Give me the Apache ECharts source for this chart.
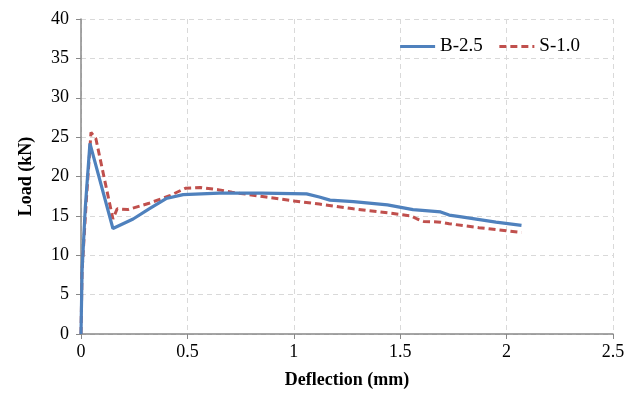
<!DOCTYPE html>
<html><head><meta charset="utf-8">
<script src="https://cdn.jsdelivr.net/npm/echarts@6/dist/echarts.min.js"></script>
<style>html,body{margin:0;padding:0;background:#fff}#c{width:630px;height:394px}</style>
</head><body><div id="c"></div>
<script>
var seriesNames = ['B-2.5', 'S-1.0'];
var b25 = [[0,0],[0.005,8],[0.02,16],[0.042,24.2],[0.15,13.4],[0.245,14.6],[0.32,15.9],[0.40,17.2],[0.48,17.7],[0.65,17.9],[0.85,17.9],[1.06,17.8],[1.12,17.4],[1.17,17.0],[1.28,16.8],[1.44,16.4],[1.56,15.8],[1.69,15.5],[1.73,15.1],[1.78,14.9],[1.95,14.2],[2.07,13.8]];
var s10 = [[0,0],[0.005,8],[0.025,17],[0.047,25.6],[0.07,24.8],[0.15,14.6],[0.17,15.9],[0.22,15.8],[0.32,16.6],[0.42,17.6],[0.49,18.5],[0.56,18.6],[0.65,18.3],[0.71,18.0],[0.87,17.4],[1.0,16.9],[1.12,16.5],[1.28,15.9],[1.44,15.4],[1.55,15.0],[1.58,14.6],[1.61,14.3],[1.69,14.2],[1.73,14.0],[1.87,13.5],[2.07,12.9]];
var xTicks = [0, 0.5, 1, 1.5, 2, 2.5];
var yTicks = [0, 5, 10, 15, 20, 25, 30, 35, 40];

var font = "'Liberation Serif', 'Times New Roman', serif";
var chart = echarts.init(document.getElementById('c'));
chart.setOption({
  animation: false,
  grid: {left: 81, right: 17, top: 19, bottom: 58},
  legend: {
    top: 32, right: 45, itemWidth: 35, itemHeight: 14, itemGap: 15,
    itemStyle: {opacity: 0},
    lineStyle: {width: 3},
    textStyle: {fontFamily: font, fontSize: 19, color: '#000'},
    data: seriesNames
  },
  xAxis: {
    type: 'value', min: 0, max: 2.5, interval: 0.5,
    name: 'Deflection (mm)', nameLocation: 'middle', nameGap: 37,
    nameTextStyle: {fontFamily: font, fontSize: 18, fontWeight: 'bold', color: '#000'},
    axisLine: {lineStyle: {color: '#888', width: 1.5}},
    axisTick: {show: true, length: 5, lineStyle: {color: '#888'}},
    axisLabel: {fontFamily: font, fontSize: 18, color: '#000', margin: 9,
      formatter: function(v){return xTicks.indexOf(v) >= 0 ? String(v) : '';}},
    splitLine: {show: true, lineStyle: {color: '#d9d9d9', type: [5, 4]}}
  },
  yAxis: {
    type: 'value', min: 0, max: 40, interval: 5,
    name: 'Load (kN)', nameLocation: 'middle', nameGap: 46,
    nameTextStyle: {fontFamily: font, fontSize: 18, fontWeight: 'bold', color: '#000'},
    axisLine: {show: true, lineStyle: {color: '#888', width: 1.5}},
    axisTick: {show: true, length: 5, lineStyle: {color: '#888'}},
    axisLabel: {fontFamily: font, fontSize: 18, color: '#000', margin: 12,
      formatter: function(v){return yTicks.indexOf(v) >= 0 ? String(v) : '';}},
    splitLine: {show: true, lineStyle: {color: '#d9d9d9', type: [5, 4]}}
  },
  series: [
    {name: seriesNames[0], type: 'line', data: b25, showSymbol: false, symbol: 'none', color: '#4F81BD',
     lineStyle: {width: 3.2, color: '#4F81BD'}, z: 3},
    {name: seriesNames[1], type: 'line', data: s10, showSymbol: false, symbol: 'none', color: '#C0504D',
     lineStyle: {width: 3, color: '#C0504D', type: [7, 4]}, z: 2}
  ]
});
</script></body></html>
